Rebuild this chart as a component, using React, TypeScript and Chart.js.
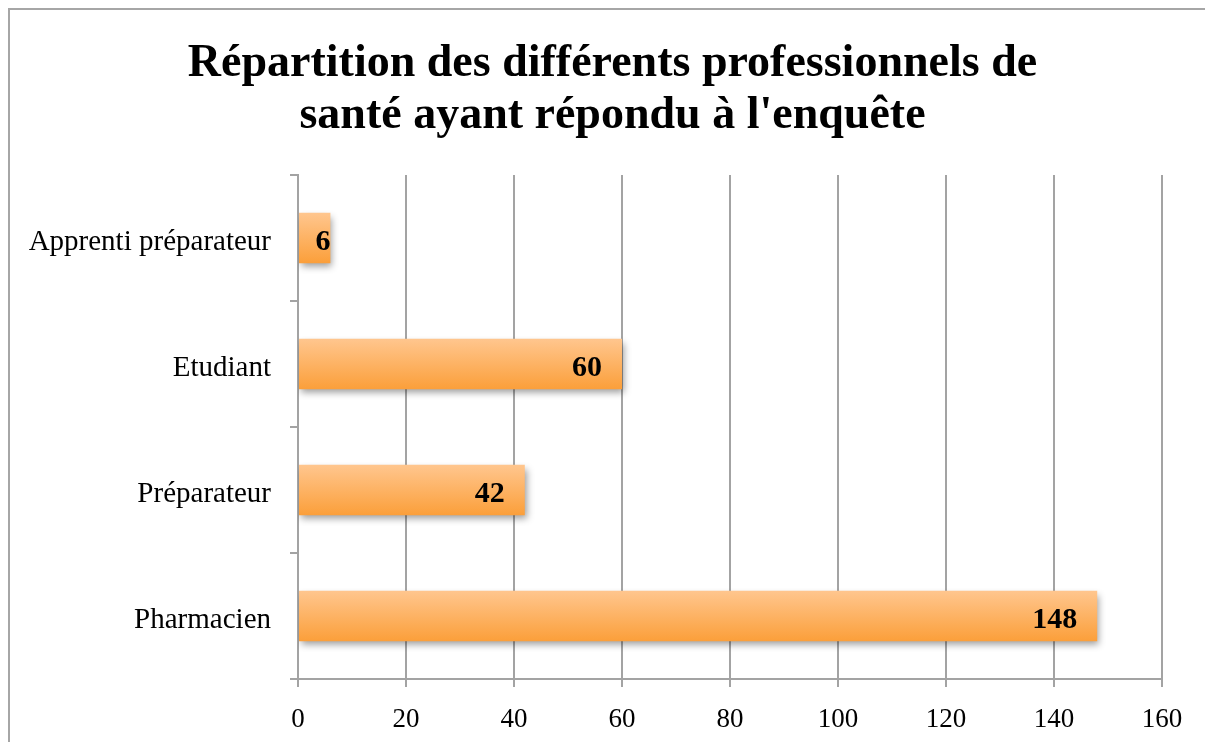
import React, { useEffect, useRef } from "react";
import { Chart, registerables } from "chart.js";

Chart.register(...registerables);

const categories = ["Apprenti préparateur", "Etudiant", "Préparateur", "Pharmacien"];
const values = [6, 60, 42, 148];
const titleLines = ["Répartition des différents professionnels de", "santé ayant répondu à l'enquête"];
const xMin = 0;
const xMax = 160;
const xStep = 20;

const FONT = "'Liberation Serif', 'DejaVu Serif', serif";
const GRID = "#a3a3a3";

const titlePlugin = {
  id: "centeredTitle",
  afterDraw(chart: any) {
    const ctx = chart.ctx;
    ctx.save();
    ctx.font = `bold 46px ${FONT}`;
    ctx.fillStyle = "#000";
    ctx.textAlign = "center";
    ctx.textBaseline = "alphabetic";
    const cx = chart.width / 2 + 1;
    ctx.fillText(titleLines[0], cx, 66);
    ctx.fillText(titleLines[1], cx, 118);
    ctx.restore();
  },
};

const shadowPlugin = {
  id: "barShadow",
  beforeDatasetsDraw(chart: any) {
    const ctx = chart.ctx;
    ctx.save();
    ctx.shadowColor = "rgba(0,0,0,0.38)";
    ctx.shadowBlur = 7;
    ctx.shadowOffsetX = 2;
    ctx.shadowOffsetY = 4;
  },
  afterDatasetsDraw(chart: any) {
    const ctx = chart.ctx;
    ctx.restore();
    const meta = chart.getDatasetMeta(0);
    ctx.save();
    ctx.font = `bold 30px ${FONT}`;
    ctx.fillStyle = "#000";
    ctx.textAlign = "right";
    ctx.textBaseline = "middle";
    meta.data.forEach((el: any, i: number) => {
      const txt = String(values[i]);
      const tw = ctx.measureText(txt).width;
      const start = el.base;
      const end = el.x;
      let right = end - 20;
      if (right - tw < start) right = end;
      ctx.fillText(txt, right, el.y + 4);
    });
    ctx.restore();
  },
};

export default function App() {
  const ref = useRef<HTMLCanvasElement | null>(null);

  useEffect(() => {
    document.body.style.overflow = "hidden";
    const canvas = ref.current;
    if (!canvas) return;
    const chart = new Chart(canvas, {
      type: "bar",
      data: {
        labels: categories,
        datasets: [
          {
            data: values,
            categoryPercentage: 0.8,
            barPercentage: 0.5,
            borderWidth: 0,
            backgroundColor: (c: any) => {
              const ch = c.chart;
              const ys = ch.scales && ch.scales.y;
              if (!ys || c.dataIndex === undefined) return "#fdb060";
              const center = ys.getPixelForValue(c.dataIndex);
              const slot = (ys.bottom - ys.top) / categories.length;
              const h = slot * 0.4;
              if (!isFinite(center) || !isFinite(h) || h <= 0) return "#fdb060";
              const g = ch.ctx.createLinearGradient(0, center - h / 2, 0, center + h / 2);
              g.addColorStop(0, "#ffc68e");
              g.addColorStop(1, "#fb9f3a");
              return g;
            },
          },
        ],
      },
      options: {
        indexAxis: "y",
        animation: false,
        responsive: false,
        maintainAspectRatio: false,
        layout: { padding: { left: 0, right: 51, top: 165, bottom: 0 } },
        plugins: {
          legend: { display: false },
          tooltip: { enabled: false },
          title: { display: false },
        },
        scales: {
          x: {
            type: "linear",
            min: xMin,
            max: xMax,
            ticks: {
              stepSize: xStep,
              color: "#000",
              font: { family: FONT, size: 27 },
              padding: 17,
            },
            grid: {
              color: GRID,
              lineWidth: 2,
              tickLength: 8,
              drawTicks: true,
            },
            border: { color: GRID, width: 2 },
            afterFit: (scale: any) => {
              scale.height = 63;
            },
          },
          y: {
            type: "category",
            ticks: {
              color: "#000",
              font: { family: FONT, size: 29 },
              padding: 19,
              labelOffset: 4,
            },
            grid: {
              display: true,
              drawOnChartArea: false,
              drawTicks: true,
              tickLength: 8,
              offset: true,
              color: GRID,
              lineWidth: 2,
            },
            border: { color: GRID, width: 2 },
            afterFit: (scale: any) => {
              scale.width = 288;
            },
          },
        },
      },
      plugins: [shadowPlugin, titlePlugin],
    } as any);
    return () => chart.destroy();
  }, []);

  return (
    <div
      style={{
        width: 1205,
        height: 734,
        boxSizing: "border-box",
        borderTop: "2px solid #a6a6a6",
        borderLeft: "2px solid #a6a6a6",
        background: "#fff",
        position: "relative",
      }}
    >
      <canvas ref={ref} width={1203} height={732} style={{ display: "block" }} />
    </div>
  );
}
